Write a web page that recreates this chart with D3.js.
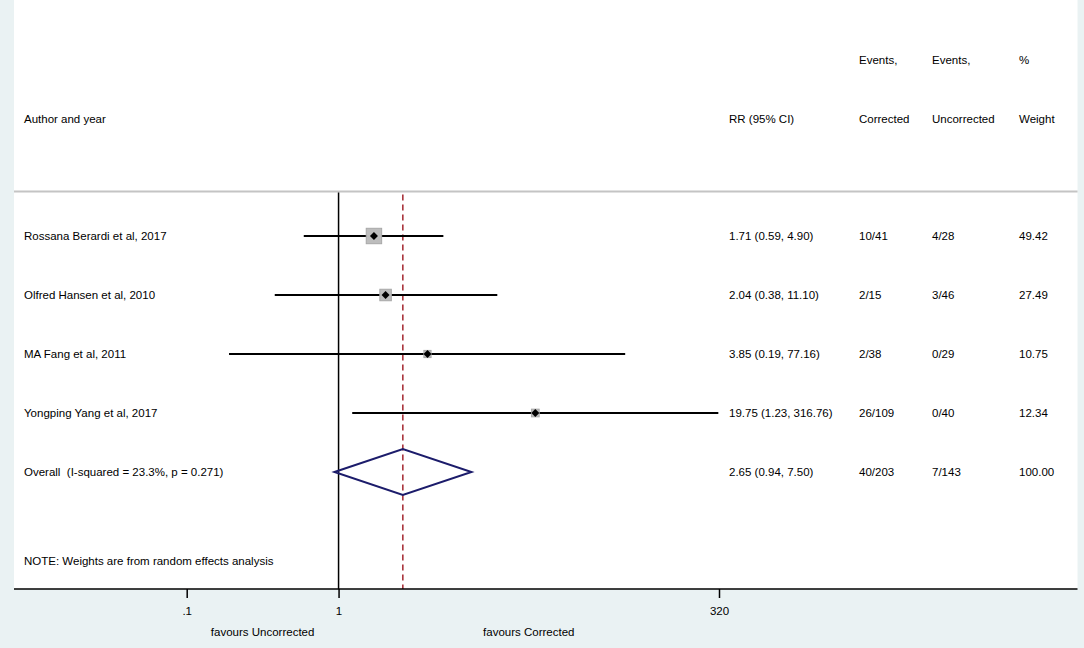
<!DOCTYPE html>
<html>
<head>
<meta charset="utf-8">
<script src="https://cdn.jsdelivr.net/npm/d3@7"></script>
<style>
  body { margin: 0; background: #eaf2f3; }
  svg { display: block; font-family: "Liberation Sans", Arial, sans-serif; }
  text { fill: #000; font-size: 11.5px; }
</style>
</head>
<body>
<div id="chart"></div>
<script>
// study rows
var authors = ["Rossana Berardi et al, 2017", "Olfred Hansen et al, 2010", "MA Fang et al, 2011", "Yongping Yang et al, 2017"];
var rr = [1.71, 2.04, 3.85, 19.75];
var lower = [0.59, 0.38, 0.19, 1.23];
var upper = [4.90, 11.10, 77.16, 316.76];
var eventsCorrected = ["10/41", "2/15", "2/38", "26/109"];
var eventsUncorrected = ["4/28", "3/46", "0/29", "0/40"];
var weights = [49.42, 27.49, 10.75, 12.34];

// pooled estimate
var overallLabel = "Overall  (I-squared = 23.3%, p = 0.271)";
var overall = [2.65, 0.94, 7.50];
var overallEvents = ["40/203", "7/143"];
var overallWeight = 100.00;

var tickValues = [0.1, 1, 320];
var tickLabels = [".1", "1", "320"];
var favours = ["favours Uncorrected", "favours Corrected"];
var note = "NOTE: Weights are from random effects analysis";

var width = 1084, height = 648;
var plotLeft = 14, plotRight = 1077.5, axisY = 589, sepY = 191.5;

var svg = d3.select("#chart").append("svg")
    .attr("width", width)
    .attr("height", height);

// white plot region
svg.append("rect")
    .attr("x", plotLeft).attr("y", 0)
    .attr("width", plotRight - plotLeft).attr("height", axisY)
    .attr("fill", "#fff");

var x = d3.scaleLog().domain([0.1, 320]).range([186.7, 719]);
var y = d3.scaleLinear().domain([0, 4]).range([236, 472]);
var box = d3.scaleSqrt().domain([0, 50]).range([0, 15.5]);
var fmt = d3.format(".2f");
var rrText = function(a, b, c) { return fmt(a) + " (" + fmt(b) + ", " + fmt(c) + ")"; };

// column positions
var colAuthor = 24, colRR = 729, colEvC = 859, colEvU = 932, colW = 1019;

// header
var head = svg.append("g").attr("class", "header");
var headRows = [
    [colEvC, 60, "Events,"], [colEvU, 60, "Events,"], [colW, 60, "%"],
    [colAuthor, 119, "Author and year"], [colRR, 119, "RR (95% CI)"],
    [colEvC, 119, "Corrected"], [colEvU, 119, "Uncorrected"], [colW, 119, "Weight"]
];
head.selectAll("text").data(headRows).enter().append("text")
    .attr("x", function(d) { return d[0]; })
    .attr("y", function(d) { return d[1]; })
    .attr("dy", "0.35em")
    .text(function(d) { return d[2]; });

svg.append("line")
    .attr("x1", plotLeft).attr("x2", plotRight)
    .attr("y1", sepY).attr("y2", sepY)
    .attr("stroke", "#c4c4c4").attr("stroke-width", 2);

// null line at 1
svg.append("line")
    .attr("x1", x(1)).attr("x2", x(1))
    .attr("y1", sepY + 1).attr("y2", axisY)
    .attr("stroke", "#000").attr("stroke-width", 1.5);

// overall estimate dashed line
svg.append("line")
    .attr("x1", x(overall[0])).attr("x2", x(overall[0]))
    .attr("y1", sepY + 3).attr("y2", axisY)
    .attr("stroke", "#a3262e").attr("stroke-width", 1.5)
    .attr("stroke-dasharray", "6,4");

var studies = authors.map(function(a, i) {
    return { author: a, rr: rr[i], lo: lower[i], hi: upper[i],
             evC: eventsCorrected[i], evU: eventsUncorrected[i], w: weights[i], row: i };
});

var g = svg.append("g").attr("class", "studies")
    .selectAll("g").data(studies).enter().append("g");

g.append("line")
    .attr("x1", function(d) { return x(d.lo); })
    .attr("x2", function(d) { return x(d.hi); })
    .attr("y1", function(d) { return y(d.row); })
    .attr("y2", function(d) { return y(d.row); })
    .attr("stroke", "#000").attr("stroke-width", 2);

g.append("rect")
    .attr("x", function(d) { return x(d.rr) - box(d.w) / 2; })
    .attr("y", function(d) { return y(d.row) - box(d.w) / 2; })
    .attr("width", function(d) { return box(d.w); })
    .attr("height", function(d) { return box(d.w); })
    .attr("fill", "#bdbdbd").attr("stroke", "#a8a8a8").attr("stroke-width", 1);

g.append("path")
    .attr("d", function(d) {
        var cx = x(d.rr), cy = y(d.row), r = 4;
        return "M" + (cx - r) + "," + cy + "L" + cx + "," + (cy - r) + "L" + (cx + r) + "," + cy + "L" + cx + "," + (cy + r) + "Z";
    })
    .attr("fill", "#000");

var cols = [
    [colAuthor, function(d) { return d.author; }],
    [colRR, function(d) { return rrText(d.rr, d.lo, d.hi); }],
    [colEvC, function(d) { return d.evC; }],
    [colEvU, function(d) { return d.evU; }],
    [colW, function(d) { return fmt(d.w); }]
];
cols.forEach(function(c) {
    g.append("text")
        .attr("x", c[0])
        .attr("y", function(d) { return y(d.row); })
        .attr("dy", "0.35em")
        .text(c[1]);
});

// overall row
var oy = y(4);
svg.append("path")
    .attr("d", "M" + x(overall[1]) + "," + oy + "L" + x(overall[0]) + "," + (oy - 23) +
               "L" + x(overall[2]) + "," + oy + "L" + x(overall[0]) + "," + (oy + 23) + "Z")
    .attr("fill", "none").attr("stroke", "#1c1c6b").attr("stroke-width", 2);

var overallRow = [
    [colAuthor, overallLabel], [colRR, rrText(overall[0], overall[1], overall[2])],
    [colEvC, overallEvents[0]], [colEvU, overallEvents[1]], [colW, fmt(overallWeight)]
];
svg.append("g").selectAll("text").data(overallRow).enter().append("text")
    .attr("x", function(d) { return d[0]; })
    .attr("y", oy)
    .attr("dy", "0.35em")
    .style("white-space", "pre")
    .text(function(d) { return d[1]; });

svg.append("text")
    .attr("x", colAuthor).attr("y", 561)
    .attr("dy", "0.35em")
    .text(note);

// x axis
svg.append("line")
    .attr("x1", plotLeft).attr("x2", plotRight)
    .attr("y1", axisY).attr("y2", axisY)
    .attr("stroke", "#000").attr("stroke-width", 1.5);

var axis = d3.axisBottom(x)
    .tickValues(tickValues)
    .tickSize(9)
    .tickPadding(9)
    .tickFormat(function(d, i) { return tickLabels[i]; });

var ax = svg.append("g")
    .attr("transform", "translate(0," + axisY + ")")
    .call(axis);
ax.select(".domain").remove();
ax.selectAll(".tick line").attr("stroke", "#000").attr("stroke-width", 1.5);
ax.selectAll(".tick text").attr("fill", "#000")
    .style("font-size", "11.5px")
    .style("font-family", "'Liberation Sans', Arial, sans-serif");

svg.append("g").selectAll("text")
    .data([[0.1, 1], [1, 320]]).enter().append("text")
    .attr("x", function(d) { return x(Math.sqrt(d[0] * d[1])); })
    .attr("y", 632)
    .attr("dy", "0.35em")
    .attr("text-anchor", "middle")
    .text(function(d, i) { return favours[i]; });
</script>
</body>
</html>
